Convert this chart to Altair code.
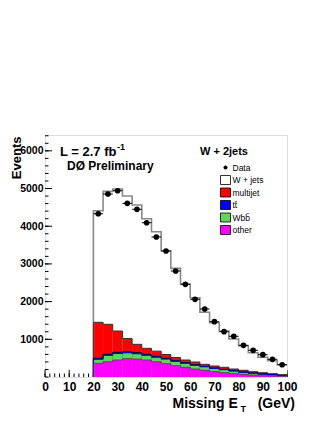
import altair as alt
import pandas as pd

# ---- data ----
bin_low = list(range(20, 100, 4))          # 20 bins, 4 GeV wide
data_vals = [4330, 4854, 4942, 4607, 4448, 4093, 3714, 3342, 2812, 2459,
             2061, 1804, 1467, 1202, 1080, 841, 708, 592, 469, 326]
wjets = [2960, 3527, 3767, 3781, 3695, 3438, 3168, 2753, 2365, 2016,
         1705, 1379, 1148, 963, 796, 652, 504, 409, 344, 265]
multijet = [955, 796, 565, 348, 222, 159, 137, 101, 85, 71,
            72, 54, 53, 53, 44, 45, 35, 34, 27, 17]
ttbar = [25, 28, 30, 30, 28, 26, 24, 21, 18, 16,
         14, 12, 10, 9, 8, 6, 5, 4, 3, 3]
wbb = [108, 168, 174, 156, 140, 125, 119, 122, 115, 107,
       100, 93, 88, 81, 72, 55, 48, 42, 31, 22]
other = [363, 406, 451, 486, 477, 451, 406, 353, 300, 257,
         212, 178, 141, 114, 88, 72, 53, 34, 27, 19]

x_major = list(range(0, 101, 10))
x_minor = list(range(0, 101, 2))
y_major = [1000, 2000, 3000, 4000, 5000, 6000]
y_minor = list(range(0, 6401, 200))

legend_labels = ["W + jets", "multijet", "tt\u0304", "Wbb\u0304", "other"]
legend_colors = ["#ffffff", "#ff0000", "#0000ff", "#5cd65c", "#ff00ff"]

FONT = "Liberation Sans"
W, H = 242, 242
XDOM = [0, 100]
YDOM = [0, 6420]

# ---- tables ----
n = len(bin_low)
lvl_mag = other
lvl_green = [other[i] + wbb[i] for i in range(n)]
lvl_blue = [lvl_green[i] + ttbar[i] for i in range(n)]
lvl_red = [lvl_blue[i] + multijet[i] for i in range(n)]
lvl_tot = [lvl_red[i] + wjets[i] for i in range(n)]

def edges(vals):
    xs = [bin_low[0]] + bin_low + [bin_low[-1] + 4]
    ys = [0] + vals + [vals[-1]]
    return pd.DataFrame({"x": xs, "y": ys, "i": list(range(len(xs)))})

xs_scale = alt.Scale(domain=XDOM, nice=False, zero=False)
ys_scale = alt.Scale(domain=YDOM, nice=False, zero=False)

x_axis = alt.Axis(
    values=x_major, tickSize=0, domain=False, grid=False, title=None,
    format="d",
    labelFont=FONT, labelFontSize=12, labelFontWeight="bold",
    labelColor="black", labelPadding=4, labelFlush=False)
y_axis = alt.Axis(
    values=y_major, tickSize=0, domain=False, grid=False, format="d",
    title="Events", titleFont=FONT, titleFontSize=13, titleFontWeight="bold",
    titleColor="black", titleAngle=270, titleAlign="right",
    titleBaseline="alphabetic", titleX=-25, titleY=1,
    labelFont=FONT, labelFontSize=10.5, labelFontWeight="bold",
    labelColor="black", labelPadding=2, labelFlush=False)

def X(field="x"):
    return alt.X(f"{field}:Q", scale=xs_scale, axis=x_axis)

def Y(field="y"):
    return alt.Y(f"{field}:Q", scale=ys_scale, axis=y_axis)

layers = []

# tick marks (inside the frame)
tx_maj = pd.DataFrame({"v": x_major})
tx_min = pd.DataFrame({"v": x_minor})
ty_maj = pd.DataFrame({"v": y_major})
ty_min = pd.DataFrame({"v": y_minor})
layers.append(alt.Chart(tx_min).mark_rule(color="black", strokeWidth=1).encode(
    x=X("v"), y=alt.value(H), y2=alt.value(H - 3.5)))
layers.append(alt.Chart(tx_maj).mark_rule(color="black", strokeWidth=1).encode(
    x=X("v"), y=alt.value(H), y2=alt.value(H - 7)))
layers.append(alt.Chart(ty_min).mark_rule(color="black", strokeWidth=1).encode(
    y=Y("v"), x=alt.value(0), x2=alt.value(3.5)))
layers.append(alt.Chart(ty_maj).mark_rule(color="black", strokeWidth=1).encode(
    y=Y("v"), x=alt.value(0), x2=alt.value(7)))

# stacked histograms, largest first
stack = [
    (lvl_tot, "#ffffff", "#8a8a8a", 1.6),
    (lvl_red, "#ff0000", "#333333", 1.0),
    (lvl_blue, "#0000ff", "#000033", 1.0),
    (lvl_green, "#5cd65c", "#0000cc", 1.0),
    (lvl_mag, "#ff00ff", "#444444", 0.8),
]
for vals, fill, stroke, sw in stack:
    df = edges(vals)
    layers.append(alt.Chart(df).mark_area(interpolate="step-after", color=fill,
                                          opacity=1).encode(
        x=X(), y=Y(), order="i:Q"))
for vals, fill, stroke, sw in stack:
    df = edges(vals)
    layers.append(alt.Chart(df).mark_line(interpolate="step-after", color=stroke,
                                          strokeWidth=sw).encode(
        x=X(), y=Y(), order="i:Q"))

# data points with horizontal error bars
ddf = pd.DataFrame({
    "lo": bin_low,
    "hi": [b + 4 for b in bin_low],
    "c": [b + 2 for b in bin_low],
    "y": data_vals,
})
layers.append(alt.Chart(ddf).mark_rule(color="black", strokeWidth=1).encode(
    x=X("lo"), x2="hi:Q", y=Y()))
layers.append(alt.Chart(ddf).mark_point(filled=True, color="black", size=32,
                                        opacity=1).encode(x=X("c"), y=Y()))

# ---- texts ----
def txt(s, x, y, size, weight="bold", align="left", baseline="alphabetic"):
    return alt.Chart(pd.DataFrame({"t": [s]})).mark_text(
        font=FONT, fontSize=size, fontWeight=weight, align=align,
        baseline=baseline, color="black").encode(
        x=alt.value(x), y=alt.value(y), text="t:N")

layers.append(txt("L = 2.7 fb", 15, 21, 13))
layers.append(txt("-1", 72, 15, 9))
layers.append(txt("D\u00d8 Preliminary", 22, 34.5, 12))
layers.append(txt("W + 2jets", 155, 20, 11))
layers.append(txt("Missing E", 127.5, 273, 14))
layers.append(txt("T", 195.5, 277, 9))
layers.append(txt("(GeV)", 250, 273, 14, align="right"))

# legend
leg_x = 180.5
leg_y0 = 32.5
leg_dy = 12.5
layers.append(alt.Chart(pd.DataFrame({"t": ["Data"]})).mark_point(
    filled=True, color="black", size=16, opacity=1).encode(
    x=alt.value(leg_x), y=alt.value(leg_y0)))
layers.append(txt("Data", leg_x + 7, leg_y0 + 3, 8.5, weight="normal"))
for k, (lab, col) in enumerate(zip(legend_labels, legend_colors)):
    yc = leg_y0 + leg_dy * (k + 1)
    layers.append(alt.Chart(pd.DataFrame({"t": [lab]})).mark_rect(
        color=col, stroke="black", strokeWidth=0.8).encode(
        x=alt.value(leg_x - 5), x2=alt.value(leg_x + 5),
        y=alt.value(yc - 4.5), y2=alt.value(yc + 4.5)))
    layers.append(txt(lab, leg_x + 7, yc + 3, 8.5, weight="normal"))

chart = alt.layer(*layers).properties(
    width=W, height=H,
    padding={"left": 37, "top": 127, "right": 32, "bottom": 38},
    autosize=alt.AutoSizeParams(type="none"),
).configure_view(stroke="black", strokeWidth=1).configure(background="white")

chart.save("out.html", embed_options={"renderer": "svg", "actions": False})
